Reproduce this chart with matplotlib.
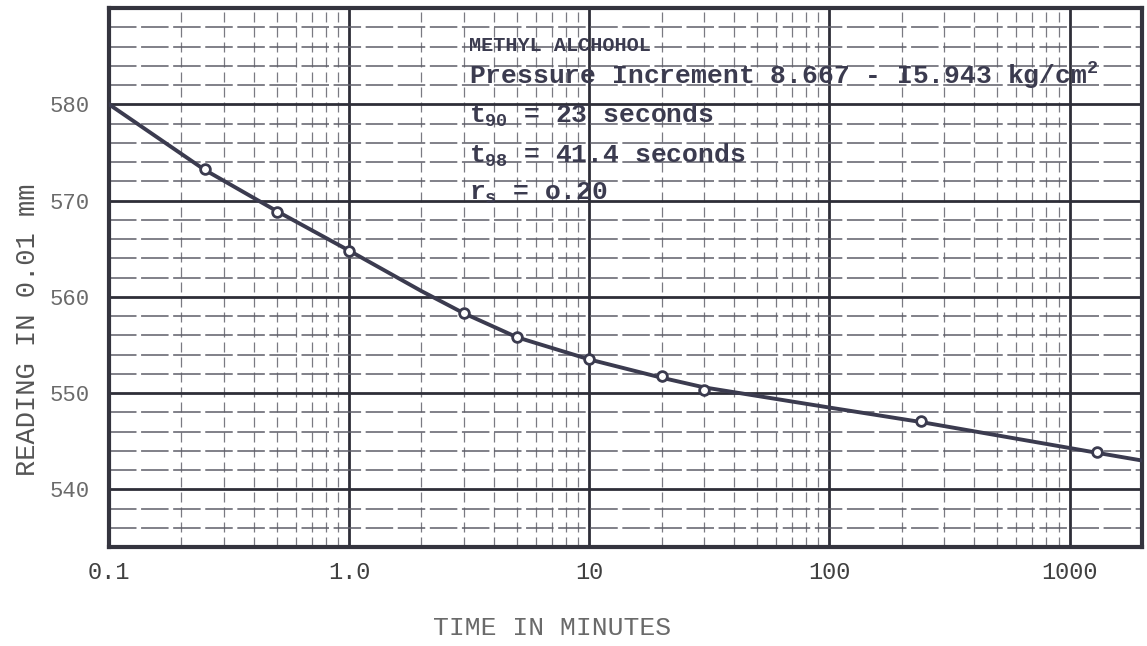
import numpy as np
import matplotlib
matplotlib.use('Agg')
import matplotlib.pyplot as plt
from matplotlib.ticker import LogLocator, FixedLocator, MultipleLocator, NullFormatter

# readings (time in minutes, dial reading in 0.01 mm)
time_pts = [0.25, 0.5, 1.0, 3.0, 5.0, 10.0, 20.0, 30.0, 240.0, 1300.0]
reading_pts = [573.3, 568.8, 564.8, 558.3, 555.8, 553.5, 551.8, 550.3, 547.1, 543.9]

# drawn (fitted) curve, read along its length
curve_t = [0.1, 0.25, 0.5, 1.0, 2.0, 3.0, 5.0, 10.0, 20.0, 30.0, 100.0, 240.0, 1000.0, 1300.0, 2000.0]
curve_r = [580.0, 573.2, 568.9, 564.8, 560.6, 558.3, 555.8, 553.5, 551.6, 550.6, 548.5, 547.0, 544.3, 543.8, 543.0]

xticks = [0.1, 1, 10, 100, 1000]
xticklabels = ['0.1', '1.0', '10', '100', '1000']
yticks = [540, 550, 560, 570, 580]

ink = '#3b3b4f'

plt.rcParams['mathtext.fontset'] = 'custom'
plt.rcParams['mathtext.rm'] = 'Liberation Mono:bold'
plt.rcParams['mathtext.it'] = 'Liberation Mono:bold'
plt.rcParams['mathtext.bf'] = 'Liberation Mono:bold'

fig = plt.figure(figsize=(11.47, 6.46), dpi=100)
ax = fig.add_axes([0.095, 0.153, 0.9006, 0.8346])

ax.set_xscale('log')
ax.set_xlim(0.1, 2000)
ax.set_ylim(534, 590)

ax.xaxis.set_major_locator(FixedLocator(xticks))
ax.set_xticklabels(xticklabels)
ax.xaxis.set_minor_locator(LogLocator(base=10, subs=np.arange(2, 10)))
ax.xaxis.set_minor_formatter(NullFormatter())
ax.yaxis.set_major_locator(FixedLocator(yticks))
ax.yaxis.set_minor_locator(MultipleLocator(2))

ax.xaxis.grid(True, which='major', color='#2e2e38', lw=2.0, ls='-')
ax.yaxis.grid(True, which='major', color='#2e2e38', lw=2.0, ls='-')
ax.xaxis.grid(True, which='minor', color='#7a7a82', lw=0.9, ls=(0, (8, 4)))
ax.yaxis.grid(True, which='minor', color='#5e5e68', lw=1.1, ls=(0, (18, 3)))
ax.set_axisbelow(True)

for s in ax.spines.values():
    s.set_color('#34343e')
    s.set_linewidth(3)

ax.tick_params(which='both', length=0)
ax.tick_params(axis='x', pad=10, labelsize=17, labelcolor='#404040')
ax.tick_params(axis='y', pad=14, labelsize=16, labelcolor='#6a6a6a')
for lab in ax.get_xticklabels() + ax.get_yticklabels():
    lab.set_family('Liberation Mono')

ax.plot(curve_t, curve_r, color=ink, lw=2.8, zorder=3)
ax.plot(time_pts, reading_pts, 'o', ms=7, mfc='white', mec=ink, mew=2, zorder=4)

txt = dict(transform=ax.transAxes, family='Liberation Mono', weight='bold',
           color=ink, va='center', ha='left')
ax.text(0.349, 0.93, 'METHYL ALCHOHOL', fontsize=14.5, **txt)
ax.text(0.349, 0.874, 'Pressure Increment 8.667 - I5.943 kg/cm$^2$', fontsize=19, **txt)
ax.text(0.349, 0.80, '$t_{90}$ = 23 seconds', fontsize=19, **txt)
ax.text(0.349, 0.727, '$t_{98}$ = 41.4 seconds', fontsize=19, **txt)
ax.text(0.349, 0.657, '$r_s$ = o.20', fontsize=19, **txt)

fig.text(0.481, 0.028, 'TIME IN MINUTES', ha='center', va='center',
         family='Liberation Mono', fontsize=19, color='#6a6a6a')
fig.text(0.024, 0.489, 'READING IN 0.01 mm', ha='center', va='center', rotation=90,
         family='Liberation Mono', fontsize=19.5, color='#555555')

fig.savefig('out.png', dpi=100)
